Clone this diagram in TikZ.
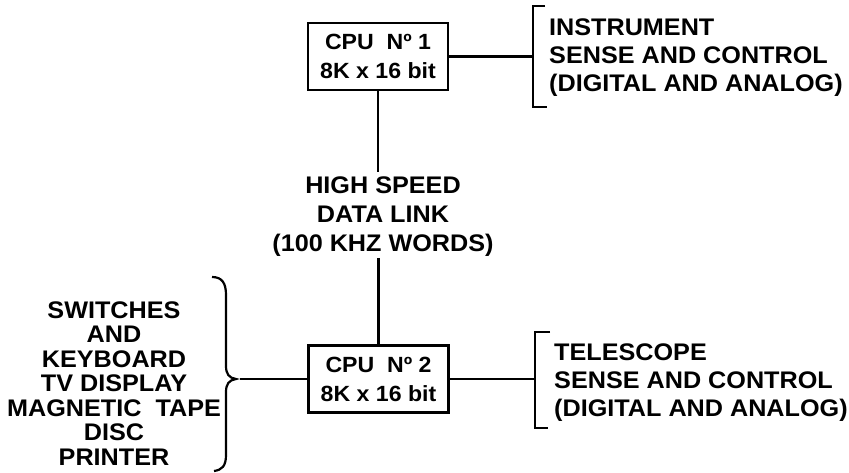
\documentclass[tikz,border=0pt]{standalone}
\usepackage{fontspec}
\setmainfont{Liberation Sans}[FakeStretch=1.05]
\begin{document}
\begin{tikzpicture}[x=1pt,y=-1pt,line width=2.4pt,
  lbl/.style={inner sep=0pt,align=center},
  fA/.style={font=\bfseries\fontsize{24}{24.5}\selectfont},
  fB/.style={font=\bfseries\fontsize{24}{28}\selectfont},
  fC/.style={font=\bfseries\fontsize{24}{29}\selectfont},
  cpubox/.style={draw,line width=2.4pt,minimum width=140pt,minimum height=67pt,inner sep=0pt,align=center,font=\bfseries\fontsize{22}{29}\selectfont},
  wire/.style={line width=2.4pt}]
\useasboundingbox (0,0) rectangle (849,473);
% boxes
\node[cpubox] (cpu1) at (378,56.5) {CPU\ \ Nº 1\\8K x 16 bit};
\node[cpubox] (cpu2) at (378.5,379) {CPU\ \ Nº 2\\8K x 16 bit};
% data link text
\node[lbl,fC] (link) at (383,216.5) {HIGH SPEED\\DATA LINK\\(100 KHZ WORDS)};
\coordinate (lkT) at (378,172);
\coordinate (lkB) at (378.5,258);
\draw[wire] (cpu1.south) -- (lkT);
\draw[wire] (lkB) -- (cpu2.north);
% right brackets
\coordinate (b1) at (533,56.5);
\coordinate (b2) at (535,379);
\draw[wire] (cpu1.east) -- (b1);
\draw[wire] (cpu2.east) -- (b2);
\draw[wire] (545,6) -- (533,6) -- (533,107) -- (547,107);
\draw[wire] (550,332) -- (535,332) -- (535,428) -- (548,428);
\node[lbl,fB,align=left,anchor=west] (inst) at (548,57.4) {INSTRUMENT\\SENSE AND CONTROL\\(DIGITAL AND ANALOG)};
\node[lbl,fB,align=left,anchor=west] (tele) at (553,383) {TELESCOPE\\SENSE AND CONTROL\\(DIGITAL AND ANALOG)};
% left peripherals
\node[lbl,fA] (peri) at (114,383.5) {SWITCHES\\AND\\KEYBOARD\\TV DISPLAY\\MAGNETIC\ \ TAPE\\DISC\\PRINTER};
\coordinate (brTip) at (236,379);
\draw[wire,line width=2.2pt] (212,277) .. controls (222,277) and (226,283) .. (226,295) -- (226,366) .. controls (226,374) and (229,378) .. (brTip) .. controls (229,380) and (226,384) .. (226,392) -- (226,455) .. controls (226,466) and (222,470) .. (214,471);
\draw[wire] (brTip) ++(4,0) coordinate (brOut) (brOut) -- (cpu2.west);
\end{tikzpicture}
\end{document}
